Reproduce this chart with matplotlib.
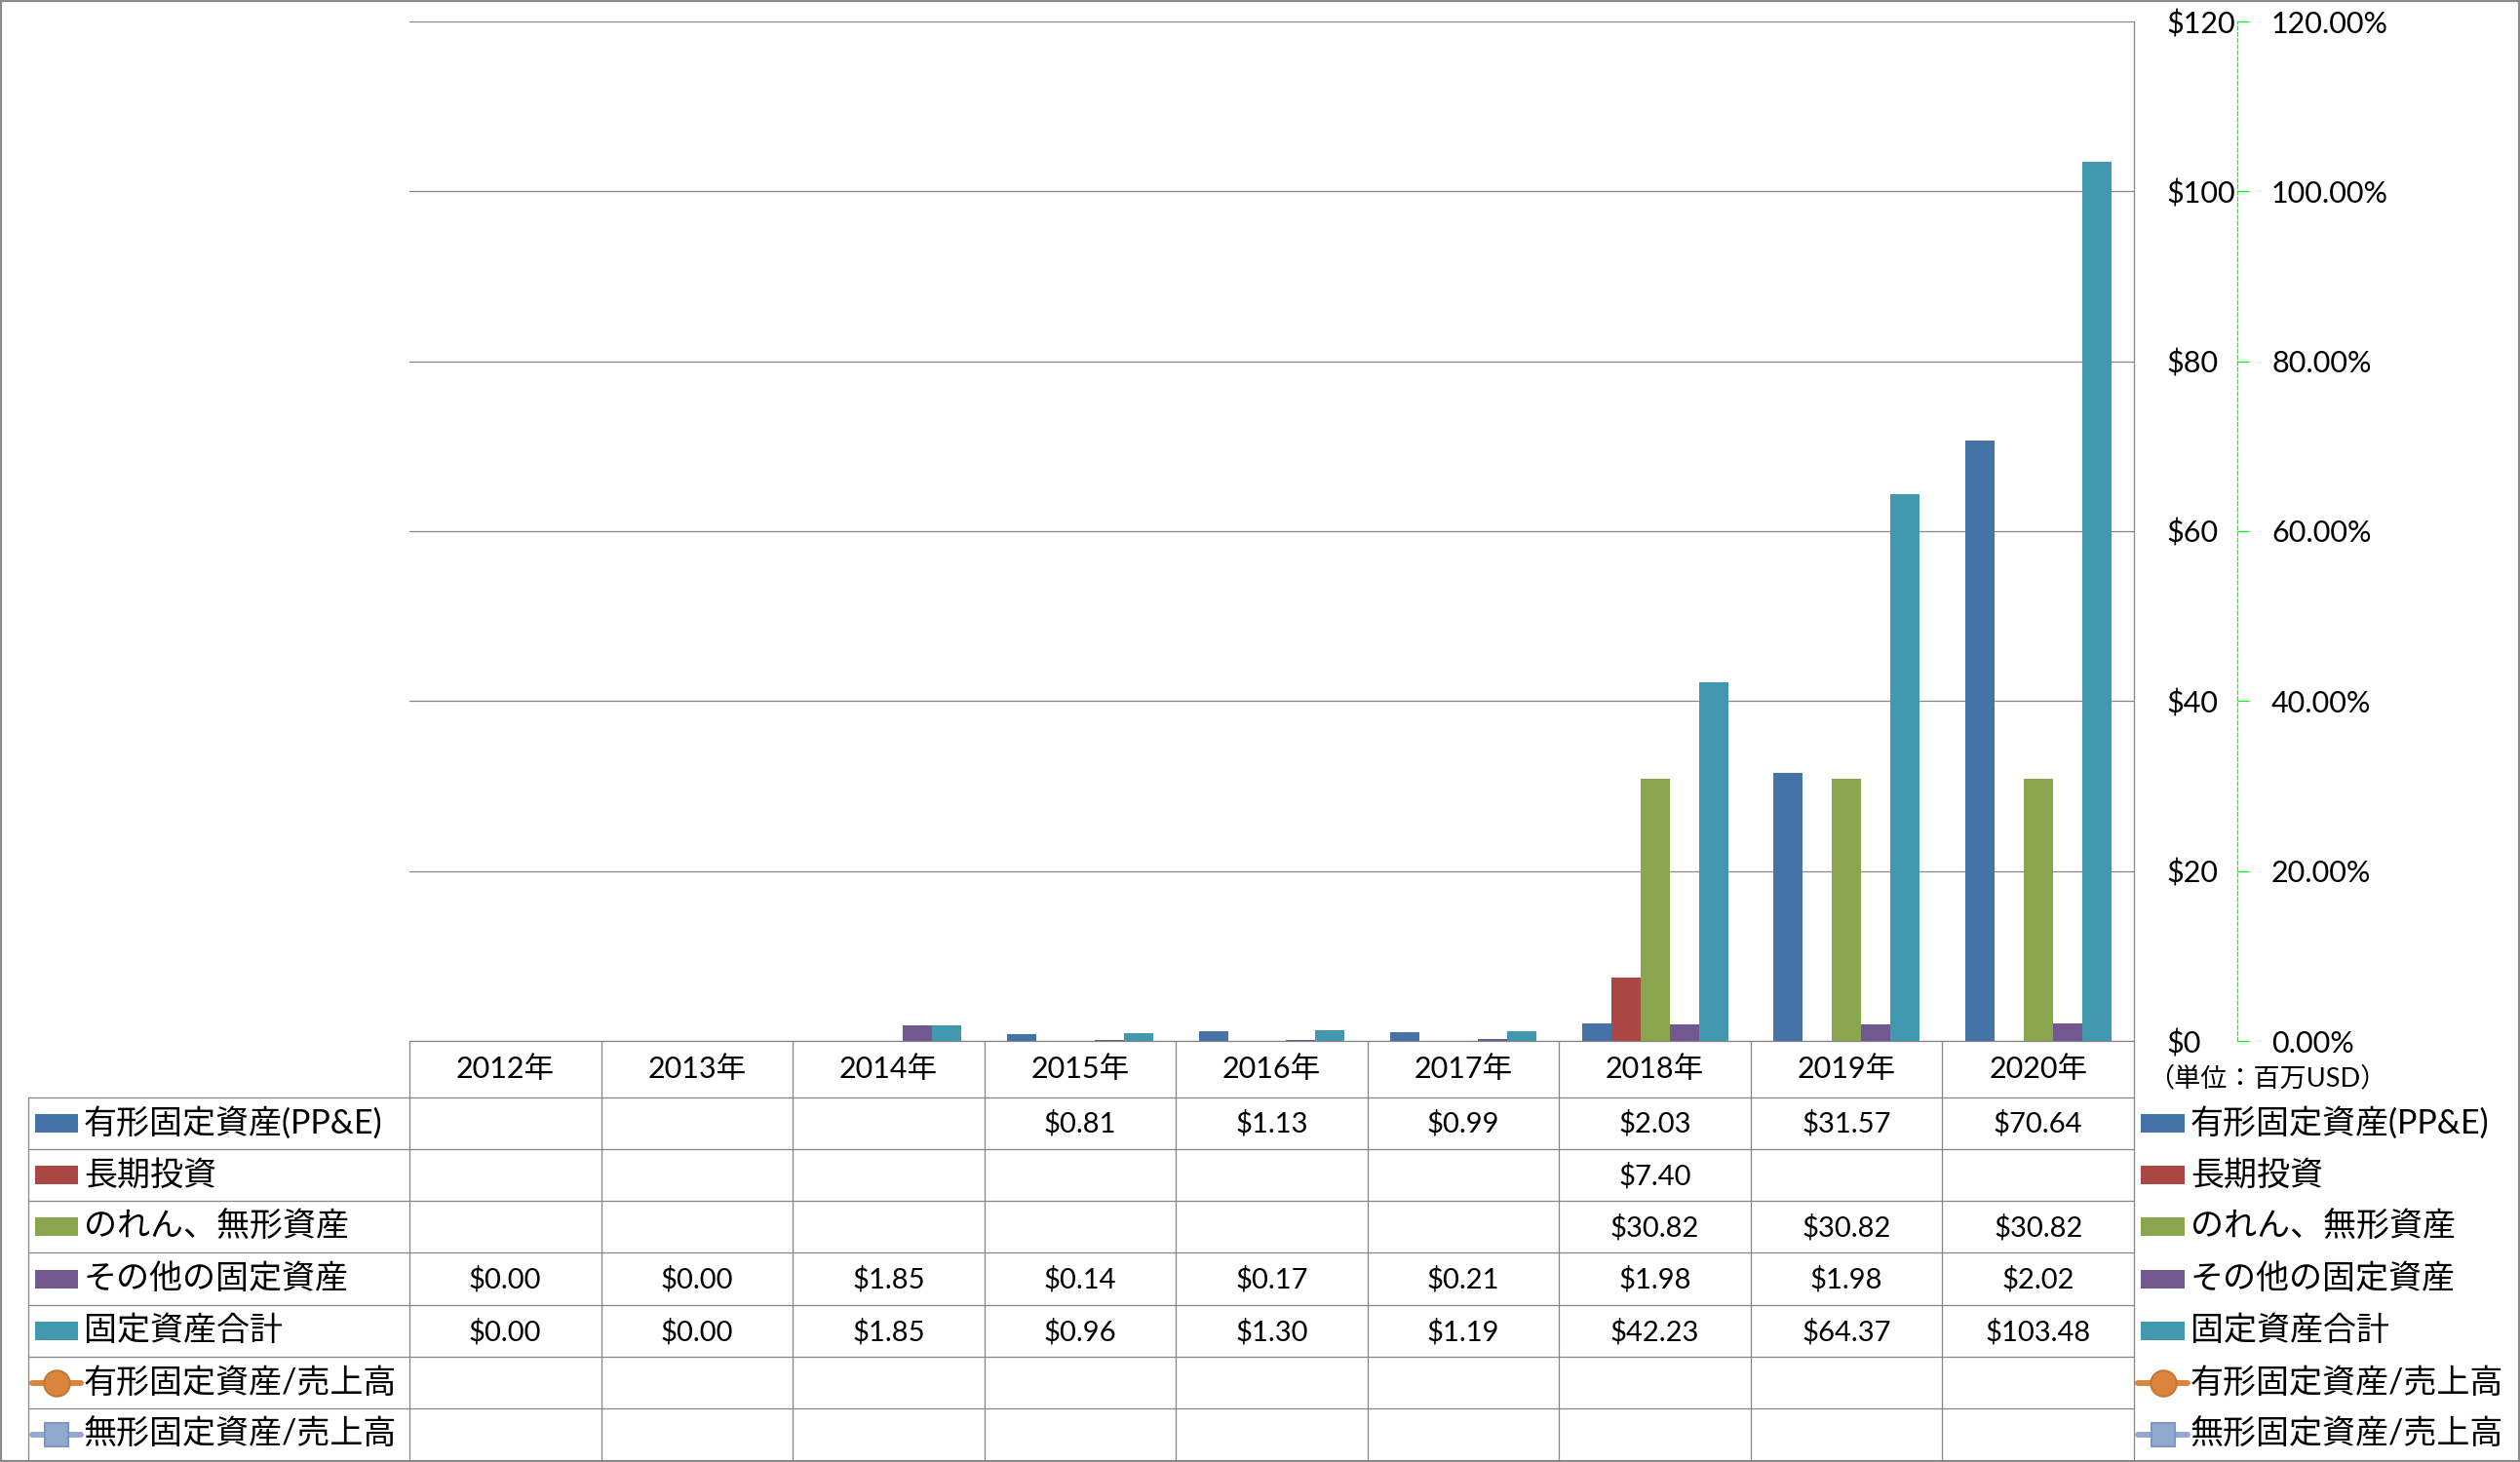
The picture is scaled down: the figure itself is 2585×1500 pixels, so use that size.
import numpy as np
import matplotlib
matplotlib.use('Agg')
import matplotlib.pyplot as plt
from matplotlib.patches import Rectangle
from matplotlib.ticker import FuncFormatter, FixedLocator
import matplotlib.transforms as mtransforms

plt.rcParams['font.family'] = ['Lato', 'Noto Sans CJK JP', 'DejaVu Sans']

# ---------------- data ----------------
years = ['2012年', '2013年', '2014年', '2015年', '2016年', '2017年', '2018年', '2019年', '2020年']
bar_names = ['有形固定資産(PP&E)', '長期投資', 'のれん、無形資産', 'その他の固定資産', '固定資産合計']
line_names = ['有形固定資産/売上高', '無形固定資産/売上高']

ppe        = [None, None, None, 0.81, 1.13, 0.99, 2.03, 31.57, 70.64]
lt_invest  = [None, None, None, None, None, None, 7.40, None, None]
goodwill   = [None, None, None, None, None, None, 30.82, 30.82, 30.82]
other      = [0.00, 0.00, 1.85, 0.14, 0.17, 0.21, 1.98, 1.98, 2.02]
total      = [0.00, 0.00, 1.85, 0.96, 1.30, 1.19, 42.23, 64.37, 103.48]
ppe_to_sales        = [None, None, None, None, None, None, None, None, None]
intangible_to_sales = [None, None, None, None, None, None, None, None, None]

bar_series = [ppe, lt_invest, goodwill, other, total]
line_series = [ppe_to_sales, intangible_to_sales]

usd_ticks = [0, 20, 40, 60, 80, 100, 120]
pct_ticks = [0.0, 0.2, 0.4, 0.6, 0.8, 1.0, 1.2]
unit_label = '（単位：百万USD）'

bar_colors = ['#4572A7', '#AA4643', '#89A54E', '#71588F', '#4198AF']
line_colors = ['#DB843D', '#93A9CF']
line_edge = ['#C8762F', '#7F97C2']
grid_c = '#878787'

# ---------------- layout (pixels) ----------------
W, H = 2585, 1500
PL, PR, PT, PB = 420, 2189, 22, 1068
row_top = 1125.5
row_h = 53.3
n_rows = 7
TL = 29  # table left edge

fig = plt.figure(figsize=(W / 100, H / 100), dpi=100)
fig.patch.set_facecolor('white')

ax = fig.add_axes([PL / W, 1 - PB / H, (PR - PL) / W, (PB - PT) / H])
ax.set_facecolor('white')

x = np.arange(len(years))
bw = 0.1526
for k, (vals, col) in enumerate(zip(bar_series, bar_colors)):
    h = np.array([np.nan if v is None else v for v in vals], dtype=float)
    ax.bar(x + (k - 2) * bw, h, width=bw, color=col, linewidth=0, zorder=3)

ax.set_xlim(-0.5, len(years) - 0.5)
ax.set_ylim(usd_ticks[0], usd_ticks[-1])
ax.yaxis.set_major_locator(FixedLocator(usd_ticks))
ax.yaxis.set_major_formatter(FuncFormatter(lambda v, p: f'${v:.0f}'))
ax.set_xticks([])
ax.grid(axis='y', color=grid_c, linewidth=0.9)
ax.set_axisbelow(True)

ax2 = ax.twinx()
ax2.set_ylim(pct_ticks[0], pct_ticks[-1])
ax2.yaxis.set_major_locator(FixedLocator(pct_ticks))
ax2.yaxis.set_major_formatter(FuncFormatter(lambda v, p: f'{v * 100:.2f}%'))
for k, (vals, col) in enumerate(zip(line_series, line_colors)):
    h = np.array([np.nan if v is None else v for v in vals], dtype=float)
    ax2.plot(x, h, color=col, marker='o' if k == 0 else 's')
for s in ['left', 'top', 'bottom']:
    ax2.spines[s].set_visible(False)
ax2.spines['right'].set_position(('outward', (2295 - PR) * 0.72))
ax2.spines['right'].set_color('#00FF00')
ax2.spines['right'].set_linestyle((0, (3, 2)))
ax2.spines['right'].set_linewidth(0.9)
ax2.tick_params(axis='y', length=8.6, width=0.9, color='#00FF00', pad=16.6,
                labelsize=22, labelcolor='black', direction='out')

# primary $ axis labels on the right (after twinx, which moves them left)
ax.yaxis.tick_right()
ax.yaxis.set_label_position('right')
ax.tick_params(axis='y', which='both', left=False, right=True, labelleft=False,
               labelright=True, length=0, pad=23.8, labelsize=22, colors='black')
for s in ['left', 'top']:
    ax.spines[s].set_visible(False)
for s in ['right', 'bottom']:
    ax.spines[s].set_color(grid_c)
    ax.spines[s].set_linewidth(0.9)

# ---------------- overlay for data table & legend ----------------
ov = fig.add_axes([0, 0, 1, 1], zorder=5)
ov.set_xlim(0, W)
ov.set_ylim(H, 0)
ov.axis('off')
ov.patch.set_alpha(0)
trans = mtransforms.blended_transform_factory(ax.transData, ov.transData)

bounds = [row_top + row_h * k for k in range(n_rows + 1)]
bottom = bounds[-1]
for i in range(len(years) + 1):
    ov.plot([i - 0.5, i - 0.5], [PB, bottom], transform=trans, color=grid_c, lw=0.9,
            solid_capstyle='butt')
ov.plot([TL, TL], [row_top, bottom], color=grid_c, lw=0.9)
for b in bounds:
    ov.plot([TL, PR], [b, b], color=grid_c, lw=0.9)

for i, yr in enumerate(years):
    ov.text(i, (PB + row_top) / 2, yr, transform=trans, ha='center', va='center',
            fontsize=22)

for r, vals in enumerate(bar_series):
    yc = (bounds[r] + bounds[r + 1]) / 2
    for i, v in enumerate(vals):
        if v is not None:
            ov.text(i, yc + 1, f'${v:.2f}', transform=trans, ha='center', va='center',
                    fontsize=21)


def legend_key(x0, x1, yc, r):
    if r < len(bar_names):
        ov.add_patch(Rectangle((x0, yc - 9.5), x1 - x0, 19, facecolor=bar_colors[r],
                               edgecolor='none'))
    else:
        k = r - len(bar_names)
        ov.plot([x0 - 3, x1 + 3], [yc, yc], color=line_colors[k], lw=4.3,
                solid_capstyle='round')
        ov.plot([(x0 + x1) / 2], [yc], marker='o' if k == 0 else 's',
                markersize=19 if k == 0 else 17, color=line_colors[k],
                markeredgecolor=line_edge[k], markeredgewidth=1.5)


all_names = bar_names + line_names
for r, name in enumerate(all_names):
    yc = (bounds[r] + bounds[r + 1]) / 2
    legend_key(36, 80, yc, r)
    ov.text(86, yc, name, ha='left', va='center', fontsize=24.5)
    legend_key(2196, 2241, yc, r)
    ov.text(2247, yc, name, ha='left', va='center', fontsize=24.5)

ov.text(2203, 1107, unit_label, ha='left', va='center', fontsize=19.5)

fig.patches.append(Rectangle((0, 0), 1, 1, transform=fig.transFigure, fill=False,
                             edgecolor='#8A8A8A', linewidth=3))

fig.savefig('out.png', dpi=100, facecolor='white')
